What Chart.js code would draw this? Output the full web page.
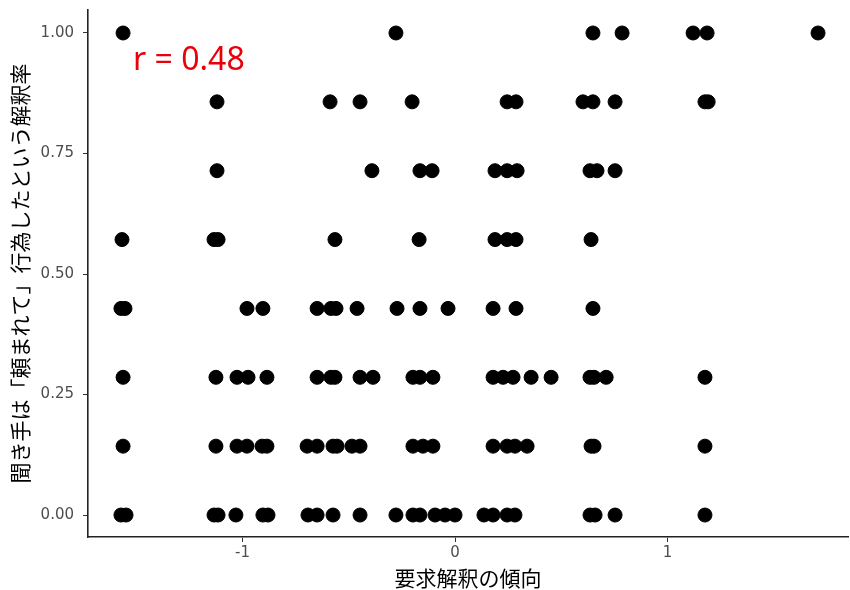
<!DOCTYPE html>
<html><head><meta charset="utf-8">
<script src="https://cdn.jsdelivr.net/npm/chart.js@4.4.1/dist/chart.umd.min.js"></script>
<style>html,body{margin:0;padding:0;background:#fff;}#wrap{width:850px;height:590px;}</style>
</head><body><div id="wrap"><canvas id="c" width="850" height="590"></canvas></div>
<script>
// y levels (share of 7 items)
const yLevels = [0, 1/7, 2/7, 3/7, 4/7, 5/7, 6/7, 1];
// x values (要求解釈の傾向) at each y level
const row0 = [-1.572, -1.548, -1.134, -1.115, -1.031, -0.904, -0.880, -0.692, -0.649, -0.574, -0.447, -0.278, -0.198, -0.165, -0.094, -0.047, 0.000, 0.136, 0.179, 0.245, 0.282, 0.635, 0.659, 0.753, 1.176];
const row1 = [-1.562, -1.125, -1.026, -0.979, -0.908, -0.885, -0.696, -0.649, -0.574, -0.555, -0.485, -0.447, -0.198, -0.151, -0.104, 0.179, 0.245, 0.282, 0.339, 0.640, 0.654, 1.176];
const row2 = [-1.562, -1.125, -1.026, -0.974, -0.885, -0.649, -0.584, -0.565, -0.447, -0.386, -0.198, -0.165, -0.104, 0.179, 0.226, 0.273, 0.358, 0.452, 0.635, 0.654, 0.711, 1.176];
const row3 = [-1.572, -1.553, -0.979, -0.904, -0.649, -0.584, -0.560, -0.461, -0.273, -0.165, -0.033, 0.179, 0.287, 0.649];
const row4 = [-1.567, -1.134, -1.115, -0.565, -0.169, 0.188, 0.245, 0.287, 0.640];
const row5 = [-1.120, -0.391, -0.165, -0.108, 0.188, 0.245, 0.292, 0.635, 0.668, 0.753];
const row6 = [-1.120, -0.588, -0.447, -0.202, 0.245, 0.287, 0.602, 0.649, 0.753, 1.176, 1.191];
const row7 = [-1.562, -0.278, 0.649, 0.786, 1.120, 1.186, 1.708];
const rows = [row0, row1, row2, row3, row4, row5, row6, row7];

const xTicks = [-1, 0, 1];
const yTicks = [0, 0.25, 0.5, 0.75, 1];
const xTitle = '要求解釈の傾向';
const yTitle = '聞き手は「頼まれて」行為したという解釈率';
const rLabel = 'r = 0.48';
const rPos = {x: -1.515, y: 0.923};

const points = [];
rows.forEach((r, i) => r.forEach(x => points.push({x: x, y: yLevels[i]})));

const textPlugin = {
  id: 'texts',
  afterDraw(chart) {
    const ctx = chart.ctx, a = chart.chartArea;
    const sx = chart.scales.x, sy = chart.scales.y;
    ctx.save();
    ctx.fillStyle = '#000';
    ctx.font = '21px "Noto Sans CJK JP"';
    ctx.textAlign = 'center';
    ctx.textBaseline = 'middle';
    ctx.fillText(xTitle, (a.left + a.right) / 2, 578);
    ctx.translate(20, (a.top + a.bottom) / 2);
    ctx.rotate(-Math.PI / 2);
    ctx.fillText(yTitle, 0, 0);
    ctx.restore();
    ctx.save();
    ctx.fillStyle = '#e8000b';
    ctx.font = '32px "Noto Sans"';
    ctx.textAlign = 'left';
    ctx.textBaseline = 'alphabetic';
    ctx.fillText(rLabel, sx.getPixelForValue(rPos.x), sy.getPixelForValue(rPos.y));
    ctx.restore();
  }
};

function noPad(s) { s.paddingTop = 0; s.paddingBottom = 0; s.paddingLeft = 0; s.paddingRight = 0; }

new Chart(document.getElementById('c'), {
  type: 'scatter',
  data: { datasets: [{ data: points, backgroundColor: '#000', borderColor: '#000', borderWidth: 1, pointRadius: 7, pointHoverRadius: 7 }] },
  options: {
    responsive: false, animation: false, devicePixelRatio: 1,
    layout: { autoPadding: false, padding: { left: 0, right: 2, top: 10, bottom: 0 } },
    plugins: { legend: { display: false }, tooltip: { enabled: false } },
    scales: {
      x: {
        type: 'linear', min: -1.727, max: 1.849,
        afterBuildTicks: s => { s.ticks = xTicks.map(v => ({ value: v })); },
        afterFit: s => { s.height = 53; noPad(s); },
        ticks: { font: { family: 'DejaVu Sans', size: 15 }, color: '#4d4d4d', padding: 2, callback: v => String(v) },
        grid: { drawOnChartArea: false, drawTicks: true, tickLength: 5, color: '#333', lineWidth: 1 },
        border: { display: true, color: '#222', width: 1.6 }
      },
      y: {
        type: 'linear', min: -0.0456, max: 1.0477,
        afterBuildTicks: s => { s.ticks = yTicks.map(v => ({ value: v })); },
        afterFit: s => { s.width = 88; noPad(s); },
        ticks: { font: { family: 'DejaVu Sans', size: 15 }, color: '#4d4d4d', padding: 9, callback: v => Number(v).toFixed(2) },
        grid: { drawOnChartArea: false, drawTicks: true, tickLength: 5, color: '#333', lineWidth: 1 },
        border: { display: true, color: '#222', width: 1.6 }
      }
    }
  },
  plugins: [textPlugin]
});
</script></body></html>
